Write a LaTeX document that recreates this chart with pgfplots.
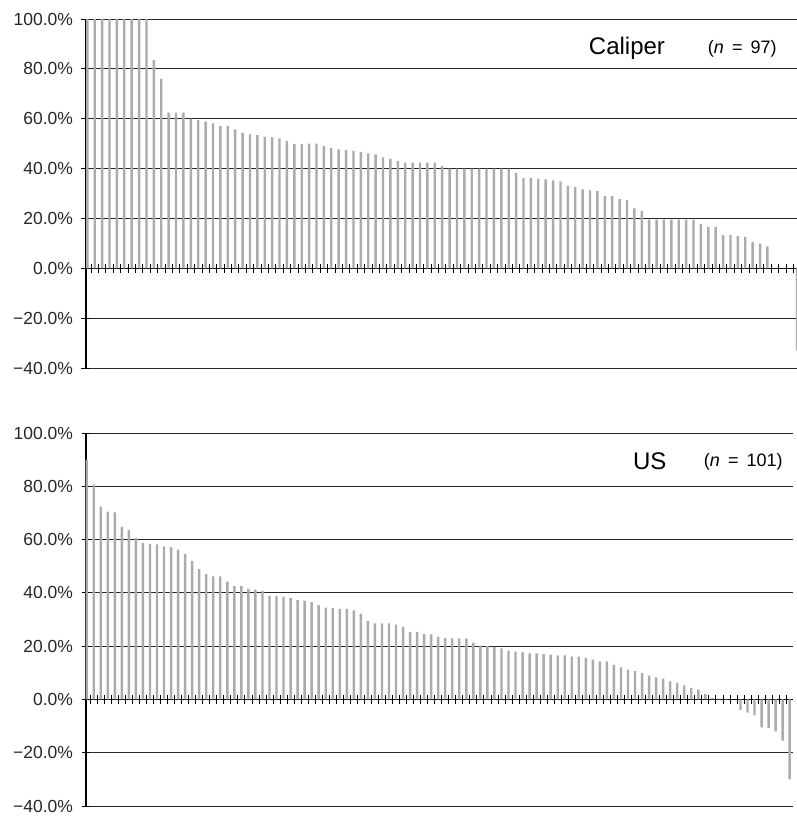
\documentclass[border=0pt]{standalone}
\usepackage{pgfplots}
\usepackage{pgfplotstable}
\pgfplotsset{compat=1.18}
\usepackage{fontspec}
\setmainfont{Liberation Sans}

% Sorted relative differences, one value per case
\pgfplotstableread{
v
100
100
100
100
100
100
100
100
100
83.5
76
62.4
62.4
62.4
60
59.4
58.8
58.1
57
57
55.7
54.3
53.7
53.4
52.7
52.5
52.1
51.1
49.8
49.8
50
50
49
48.3
47.7
47.4
47.1
46.7
46.1
45.7
44.5
43.9
43.0
42.4
42.4
42.4
42.4
42.4
41.1
40
40
40
40
40
40
40
40
40
38.3
36.3
36.3
36
35.7
35.3
34.9
33.1
32.7
31.7
31.3
30.9
28.9
28.9
27.7
27.3
24
23
19.5
19.5
19.5
19.5
19.5
19.5
19.5
17.7
16.6
16.6
13.3
13.3
12.9
12.6
10.6
9.9
8.8
0
0
0
-33
}\caliper

\pgfplotstableread{
v
90
80.6
72.4
70.5
70.2
64.8
63.6
60.6
58.8
58.4
58.2
57.4
57.2
56.2
54.5
51.9
48.9
47
46.2
46.2
44.2
42.5
42.5
41.5
41.2
40.7
39
38.9
38.5
38
37.3
37.1
36.5
35.4
34.5
34.3
34
34
33.4
32.2
29.5
28.5
28.5
28.5
28.1
27.2
25.4
25.4
24.6
24.4
23.6
23.1
22.9
22.9
22.9
21.3
20.2
20
19.7
19.2
18.3
17.9
17.7
17.3
17.3
17
16.8
16.5
16.5
16.1
16.1
15.5
14.9
14.3
14.3
13
12
11.2
10.6
9.9
8.9
8.3
7.8
6.8
6.2
5.3
4.3
3.7
2.1
0.5
0.3
0.2
0
-4
-5
-6
-10.5
-10.7
-12
-15.5
-30
}\us

\pgfplotsset{
  panel/.style={
    scale only axis,
    anchor=south west,
    axis y line=left,
    axis x line=middle,
    axis line style={-},
    x axis line style={-, black, line width=0.9pt},
    y axis line style={-, black, line width=1.4pt},
    ymin=-40, ymax=100,
    ytick={-40,-20,0,20,40,60,80,100},
    yticklabels={−40.0\%,−20.0\%,0.0\%,20.0\%,40.0\%,60.0\%,80.0\%,100.0\%},
    yticklabel style={font=\fontsize{17.5}{20}\selectfont, text=black!85, xshift=-5pt},
    ymajorgrids,
    grid style={black!85, line width=0.8pt},
    xticklabel=\empty,
    tick align=center,
    major tick length=9pt,
    tick style={black, line width=0.8pt},
    clip=false,
  },
  casebar/.style={ybar, bar width=2.4pt, fill=black!33, draw=none},
}

\begin{document}
\begin{tikzpicture}
\path[use as bounding box] (0pt,0pt) rectangle (797pt,816pt);

\begin{axis}[panel,
  at={(86pt,448pt)}, width=711pt, height=349pt,
  xmin=0.82, xmax=97.0,
  xtick={1.5,2.5,...,96.5}]
  \addplot[casebar] table[x expr=\coordindex+1, y=v] {\caliper};
  \node[font=\fontsize{24}{28}\selectfont] at (axis cs:74,88.4) {Caliper};
  \node[font=\fontsize{18}{22}\selectfont] at (axis cs:89.6,88.2) {(\textit{n}\hspace{0.45em}=\hspace{0.45em}97)};
\end{axis}

\begin{axis}[panel,
  at={(86pt,10pt)}, width=706.5pt, height=373pt,
  xmin=0.9, xmax=101.4,
  xtick={1.5,2.5,...,100.5}]
  \addplot[casebar] table[x expr=\coordindex+1, y=v] {\us};
  \node[font=\fontsize{24}{28}\selectfont] at (axis cs:81.1,89.3) {US};
  \node[font=\fontsize{18}{22}\selectfont] at (axis cs:94.4,89.2) {(\textit{n}\hspace{0.45em}=\hspace{0.45em}101)};
\end{axis}
\end{tikzpicture}
\end{document}
